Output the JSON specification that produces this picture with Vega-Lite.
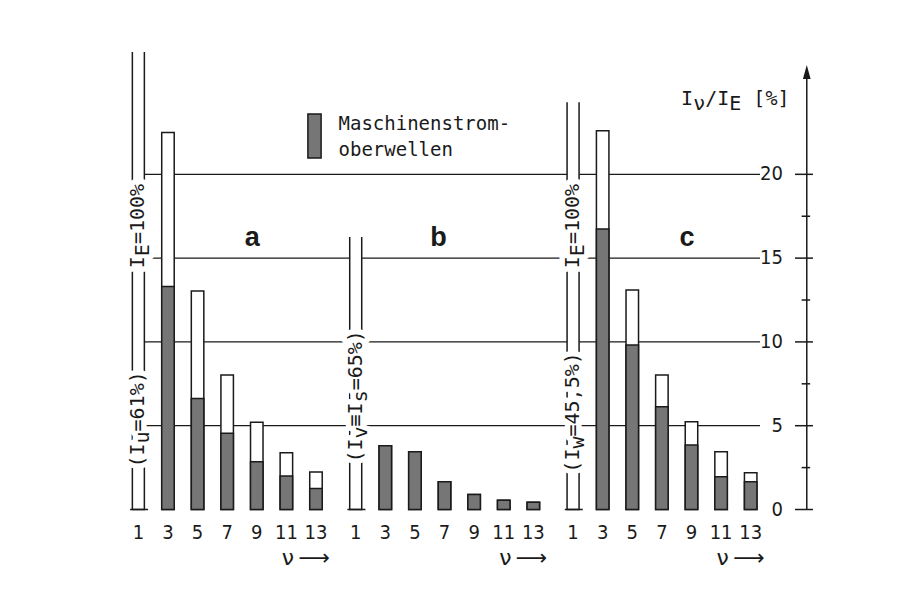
{
"$schema": "https://vega.github.io/schema/vega-lite/v6.json",
"width": 628, "height": 444.1,
"autosize": {"type": "none"},
"padding": {"left": 132, "top": 65.4, "right": 149, "bottom": 93.5},
"background": "white",
"config": {"view": {"stroke": null}},
"datasets": {
 "bars": [
  {"panel": "a", "nu": 3, "total": 22.5, "hatched": 13.3},
  {"panel": "a", "nu": 5, "total": 13.04, "hatched": 6.63},
  {"panel": "a", "nu": 7, "total": 8.03, "hatched": 4.55},
  {"panel": "a", "nu": 9, "total": 5.2, "hatched": 2.85},
  {"panel": "a", "nu": 11, "total": 3.39, "hatched": 2.0},
  {"panel": "a", "nu": 13, "total": 2.24, "hatched": 1.26},
  {"panel": "b", "nu": 3, "total": 3.8, "hatched": 3.8},
  {"panel": "b", "nu": 5, "total": 3.45, "hatched": 3.45},
  {"panel": "b", "nu": 7, "total": 1.65, "hatched": 1.65},
  {"panel": "b", "nu": 9, "total": 0.9, "hatched": 0.9},
  {"panel": "b", "nu": 11, "total": 0.55, "hatched": 0.55},
  {"panel": "b", "nu": 13, "total": 0.43, "hatched": 0.43},
  {"panel": "c", "nu": 3, "total": 22.6, "hatched": 16.74},
  {"panel": "c", "nu": 5, "total": 13.1, "hatched": 9.81},
  {"panel": "c", "nu": 7, "total": 8.03, "hatched": 6.13},
  {"panel": "c", "nu": 9, "total": 5.24, "hatched": 3.85},
  {"panel": "c", "nu": 11, "total": 3.45, "hatched": 1.96},
  {"panel": "c", "nu": 13, "total": 2.2, "hatched": 1.66}
 ],
 "fund": [
  {"panel": "a", "nu": 1, "top": 27.3},
  {"panel": "b", "nu": 1, "top": 16.26},
  {"panel": "c", "nu": 1, "top": 24.3}
 ],
 "panels": [{"panel": "a"}, {"panel": "b"}, {"panel": "c"}],
 "grid": [{"v": 5}, {"v": 10}, {"v": 15}, {"v": 20}],
 "yticks": [{"v": 0}, {"v": 2.5}, {"v": 5}, {"v": 7.5}, {"v": 10}, {"v": 12.5}, {"v": 15}, {"v": 17.5}, {"v": 20}],
 "rot": [
  {"panel": "a", "nu": 1, "at": 14.4, "main": "I\u00a0=100%", "sub": "\u200b\u00a0E"},
  {"panel": "a", "nu": 1, "at": 2.5, "main": "(I\u00a0=61%)", "sub": "\u200b\u00a0\u00a0u"},
  {"panel": "b", "nu": 1, "at": 2.8, "main": "(I\u00a0\u2261I\u00a0=65%)", "sub": "\u200b\u00a0\u00a0v\u00a0\u00a0s"},
  {"panel": "c", "nu": 1, "at": 14.4, "main": "I\u00a0=100%", "sub": "\u200b\u00a0E"},
  {"panel": "c", "nu": 1, "at": 2.2, "main": "(I\u00a0=45,5%)", "sub": "\u200b\u00a0\u00a0w"}
 ],
 "letters": [
  {"panel": "a", "nu": 8.7, "label": "a"},
  {"panel": "b", "nu": 6.6, "label": "b"},
  {"panel": "c", "nu": 8.7, "label": "c"}
 ]
},
"layer": [
 {
  "data": {"name": "grid"},
  "mark": {"type": "rule", "stroke": "#1a1a1a", "strokeWidth": 1.2},
  "encoding": {
   "y": {"field": "v", "type": "quantitative", "scale": {"domain": [0, 26.5], "nice": false}, "axis": null}
  }
 },
 {
  "data": {"name": "fund"},
  "mark": {"type": "bar", "fill": "white", "stroke": "#1a1a1a", "strokeWidth": 1.5, "width": 12, "strokeDash": [0, 12, 10000]},
  "encoding": {
   "x": {"field": "panel", "type": "nominal", "scale": {"domain": ["a", "b", "c"], "paddingInner": 0.1107, "paddingOuter": 0, "align": 0}, "axis": null},
   "xOffset": {"field": "nu", "type": "quantitative", "scale": {"domain": [0.57, 13.63], "range": [0, 193.3]}},
   "y": {"field": "top", "type": "quantitative", "scale": {"domain": [0, 26.5], "nice": false}, "axis": null},
   "y2": {"datum": 0}
  }
 },
 {
  "data": {"name": "bars"},
  "mark": {"type": "bar", "fill": "white", "stroke": "#1a1a1a", "strokeWidth": 1.5, "width": 12.5},
  "encoding": {
   "x": {"field": "panel", "type": "nominal", "scale": {"domain": ["a", "b", "c"], "paddingInner": 0.1107, "paddingOuter": 0, "align": 0}, "axis": null},
   "xOffset": {"field": "nu", "type": "quantitative", "scale": {"domain": [0.57, 13.63], "range": [0, 193.3]}},
   "y": {"field": "total", "type": "quantitative", "scale": {"domain": [0, 26.5], "nice": false}, "axis": null},
   "y2": {"datum": 0}
  }
 },
 {
  "data": {"name": "bars"},
  "mark": {"type": "bar", "stroke": "#1a1a1a", "strokeWidth": 1.5, "width": 12.5},
  "encoding": {
   "x": {"field": "panel", "type": "nominal", "scale": {"domain": ["a", "b", "c"], "paddingInner": 0.1107, "paddingOuter": 0, "align": 0}, "axis": null},
   "xOffset": {"field": "nu", "type": "quantitative", "scale": {"domain": [0.57, 13.63], "range": [0, 193.3]}},
   "y": {"field": "hatched", "type": "quantitative", "scale": {"domain": [0, 26.5], "nice": false}, "axis": null},
   "y2": {"datum": 0},
   "color": {"datum": "Maschinenstrom-oberwellen", "type": "nominal", "scale": {"range": ["#767676"]},
    "legend": {"orient": "none", "legendX": 159.5, "legendY": 47.6, "title": null, "padding": 0,
     "symbolType": "M-0.3,-1H0.3V1H-0.3Z", "symbolSize": 1936, "symbolStrokeColor": "#1a1a1a", "symbolStrokeWidth": 1.5,
     "labelFont": "DejaVu Sans Mono", "labelFontSize": 19, "labelColor": "#1a1a1a", "labelLimit": 0, "labelOffset": 1,
     "labelExpr": "['Maschinenstrom-', 'oberwellen']",
     "encode": {"labels": {"update": {"lineHeight": {"value": 26}, "dy": {"value": -12}}}}}}
  }
 },
 {
  "data": {"name": "panels"},
  "mark": {"type": "bar", "fill": "transparent", "stroke": "#1a1a1a", "strokeWidth": 1.5, "width": {"band": 1.02}},
  "encoding": {
   "x": {"field": "panel", "type": "nominal", "scale": {"domain": ["a", "b", "c"], "paddingInner": 0.1107, "paddingOuter": 0, "align": 0}, "axis": null},
   "y": {"datum": 0, "type": "quantitative", "scale": {"domain": [0, 26.5], "nice": false}, "axis": null},
   "y2": {"datum": 0}
  }
 },
 {
  "data": {"name": "bars"},
  "mark": {"type": "text", "font": "Liberation Sans Narrow, DejaVu Sans Condensed, Liberation Sans", "fontSize": 20, "fill": "#1a1a1a", "baseline": "alphabetic", "align": "center", "dy": 29},
  "encoding": {
   "x": {"field": "panel", "type": "nominal", "scale": {"domain": ["a", "b", "c"], "paddingInner": 0.1107, "paddingOuter": 0, "align": 0}, "axis": null},
   "xOffset": {"field": "nu", "type": "quantitative", "scale": {"domain": [0.57, 13.63], "range": [0, 193.3]}},
   "y": {"datum": 0, "type": "quantitative", "scale": {"domain": [0, 26.5], "nice": false}, "axis": null},
   "text": {"field": "nu", "type": "quantitative"}
  }
 },
 {
  "data": {"name": "fund"},
  "mark": {"type": "text", "font": "Liberation Sans Narrow, DejaVu Sans Condensed, Liberation Sans", "fontSize": 20, "fill": "#1a1a1a", "baseline": "alphabetic", "align": "center", "dy": 29},
  "encoding": {
   "x": {"field": "panel", "type": "nominal", "scale": {"domain": ["a", "b", "c"], "paddingInner": 0.1107, "paddingOuter": 0, "align": 0}, "axis": null},
   "xOffset": {"field": "nu", "type": "quantitative", "scale": {"domain": [0.57, 13.63], "range": [0, 193.3]}},
   "y": {"datum": 0, "type": "quantitative", "scale": {"domain": [0, 26.5], "nice": false}, "axis": null},
   "text": {"field": "nu", "type": "quantitative"}
  }
 },
 {
  "data": {"name": "panels"},
  "mark": {"type": "text", "font": "DejaVu Sans", "fontSize": 22, "fill": "#1a1a1a", "baseline": "alphabetic", "align": "right", "dy": 55.5, "text": "\u03bd\u2009\u27f6"},
  "encoding": {
   "x": {"field": "panel", "type": "nominal", "scale": {"domain": ["a", "b", "c"], "paddingInner": 0.1107, "paddingOuter": 0, "align": 0}, "axis": null},
   "xOffset": {"datum": 13.95, "type": "quantitative", "scale": {"domain": [0.57, 13.63], "range": [0, 193.3]}},
   "y": {"datum": 0, "type": "quantitative", "scale": {"domain": [0, 26.5], "nice": false}, "axis": null}
  }
 },
 {
  "data": {"name": "rot"},
  "mark": {"type": "text", "angle": 270, "align": "left", "baseline": "middle", "font": "DejaVu Sans Mono", "fontSize": 20, "fill": "white", "stroke": "white", "strokeWidth": 11, "strokeJoin": "round"},
  "encoding": {
   "x": {"field": "panel", "type": "nominal", "scale": {"domain": ["a", "b", "c"], "paddingInner": 0.1107, "paddingOuter": 0, "align": 0}, "axis": null},
   "xOffset": {"field": "nu", "type": "quantitative", "scale": {"domain": [0.57, 13.63], "range": [0, 193.3]}},
   "y": {"field": "at", "type": "quantitative", "scale": {"domain": [0, 26.5], "nice": false}, "axis": null},
   "text": {"field": "main"}
  }
 },
 {
  "data": {"name": "rot"},
  "mark": {"type": "text", "angle": 270, "align": "left", "baseline": "middle", "font": "DejaVu Sans Mono", "fontSize": 20, "fill": "white", "stroke": "white", "strokeWidth": 11, "strokeJoin": "round", "dy": 5},
  "encoding": {
   "x": {"field": "panel", "type": "nominal", "scale": {"domain": ["a", "b", "c"], "paddingInner": 0.1107, "paddingOuter": 0, "align": 0}, "axis": null},
   "xOffset": {"field": "nu", "type": "quantitative", "scale": {"domain": [0.57, 13.63], "range": [0, 193.3]}},
   "y": {"field": "at", "type": "quantitative", "scale": {"domain": [0, 26.5], "nice": false}, "axis": null},
   "text": {"field": "sub"}
  }
 },
 {
  "data": {"name": "rot"},
  "mark": {"type": "text", "angle": 270, "align": "left", "baseline": "middle", "font": "DejaVu Sans Mono", "fontSize": 20, "fill": "#1a1a1a"},
  "encoding": {
   "x": {"field": "panel", "type": "nominal", "scale": {"domain": ["a", "b", "c"], "paddingInner": 0.1107, "paddingOuter": 0, "align": 0}, "axis": null},
   "xOffset": {"field": "nu", "type": "quantitative", "scale": {"domain": [0.57, 13.63], "range": [0, 193.3]}},
   "y": {"field": "at", "type": "quantitative", "scale": {"domain": [0, 26.5], "nice": false}, "axis": null},
   "text": {"field": "main"}
  }
 },
 {
  "data": {"name": "rot"},
  "mark": {"type": "text", "angle": 270, "align": "left", "baseline": "middle", "font": "DejaVu Sans Mono", "fontSize": 20, "fill": "#1a1a1a", "dy": 5},
  "encoding": {
   "x": {"field": "panel", "type": "nominal", "scale": {"domain": ["a", "b", "c"], "paddingInner": 0.1107, "paddingOuter": 0, "align": 0}, "axis": null},
   "xOffset": {"field": "nu", "type": "quantitative", "scale": {"domain": [0.57, 13.63], "range": [0, 193.3]}},
   "y": {"field": "at", "type": "quantitative", "scale": {"domain": [0, 26.5], "nice": false}, "axis": null},
   "text": {"field": "sub"}
  }
 },
 {
  "data": {"name": "letters"},
  "mark": {"type": "text", "font": "Liberation Sans", "fontWeight": "bold", "fontSize": 27, "fill": "#1a1a1a", "baseline": "alphabetic", "align": "center"},
  "encoding": {
   "x": {"field": "panel", "type": "nominal", "scale": {"domain": ["a", "b", "c"], "paddingInner": 0.1107, "paddingOuter": 0, "align": 0}, "axis": null},
   "xOffset": {"field": "nu", "type": "quantitative", "scale": {"domain": [0.57, 13.63], "range": [0, 193.3]}},
   "y": {"datum": 15.7, "type": "quantitative", "scale": {"domain": [0, 26.5], "nice": false}, "axis": null},
   "text": {"field": "label"}
  }
 },
 {
  "data": {"values": [{}]},
  "mark": {"type": "text", "font": "DejaVu Sans Mono", "fontSize": 20, "fill": "#1a1a1a", "baseline": "alphabetic", "align": "left", "text": "I\u00a0/I\u00a0\u00a0[%]"},
  "encoding": {
   "x": {"datum": "c", "type": "nominal", "scale": {"domain": ["a", "b", "c"], "paddingInner": 0.1107, "paddingOuter": 0, "align": 0}, "axis": null},
   "xOffset": {"datum": 8.3, "type": "quantitative", "scale": {"domain": [0.57, 13.63], "range": [0, 193.3]}},
   "y": {"datum": 24.13, "type": "quantitative", "scale": {"domain": [0, 26.5], "nice": false}, "axis": null}
  }
 },
 {
  "data": {"values": [{}]},
  "mark": {"type": "text", "font": "DejaVu Sans Mono", "fontSize": 20, "fill": "#1a1a1a", "baseline": "alphabetic", "align": "left", "dy": 5, "text": "\u200b\u00a0\u03bd\u00a0\u00a0E"},
  "encoding": {
   "x": {"datum": "c", "type": "nominal", "scale": {"domain": ["a", "b", "c"], "paddingInner": 0.1107, "paddingOuter": 0, "align": 0}, "axis": null},
   "xOffset": {"datum": 8.3, "type": "quantitative", "scale": {"domain": [0.57, 13.63], "range": [0, 193.3]}},
   "y": {"datum": 24.13, "type": "quantitative", "scale": {"domain": [0, 26.5], "nice": false}, "axis": null}
  }
 },
 {
  "data": {"values": [{}]},
  "mark": {"type": "rule", "stroke": "#1a1a1a", "strokeWidth": 1.5},
  "encoding": {
   "x": {"datum": "c", "type": "nominal", "scale": {"domain": ["a", "b", "c"], "paddingInner": 0.1107, "paddingOuter": 0, "align": 0}, "axis": null},
   "xOffset": {"datum": 16.79, "type": "quantitative", "scale": {"domain": [0.57, 13.63], "range": [0, 193.3]}},
   "y": {"datum": 0, "type": "quantitative", "scale": {"domain": [0, 26.5], "nice": false}, "axis": null},
   "y2": {"datum": 26.0}
  }
 },
 {
  "data": {"name": "yticks"},
  "transform": [{"filter": "datum.v % 5 === 0"}],
  "mark": {"type": "tick", "color": "#1a1a1a", "thickness": 1.5, "size": 18, "opacity": 1},
  "encoding": {
   "x": {"datum": "c", "type": "nominal", "scale": {"domain": ["a", "b", "c"], "paddingInner": 0.1107, "paddingOuter": 0, "align": 0}, "axis": null},
   "xOffset": {"datum": 16.6, "type": "quantitative", "scale": {"domain": [0.57, 13.63], "range": [0, 193.3]}},
   "y": {"field": "v", "type": "quantitative", "scale": {"domain": [0, 26.5], "nice": false}, "axis": null}
  }
 },
 {
  "data": {"name": "yticks"},
  "transform": [{"filter": "datum.v % 5 !== 0"}],
  "mark": {"type": "tick", "color": "#1a1a1a", "thickness": 1.5, "size": 8.5, "opacity": 1},
  "encoding": {
   "x": {"datum": "c", "type": "nominal", "scale": {"domain": ["a", "b", "c"], "paddingInner": 0.1107, "paddingOuter": 0, "align": 0}, "axis": null},
   "xOffset": {"datum": 16.73, "type": "quantitative", "scale": {"domain": [0.57, 13.63], "range": [0, 193.3]}},
   "y": {"field": "v", "type": "quantitative", "scale": {"domain": [0, 26.5], "nice": false}, "axis": null}
  }
 },
 {
  "data": {"name": "yticks"},
  "transform": [{"filter": "datum.v % 5 === 0"}],
  "mark": {"type": "text", "font": "Liberation Sans Narrow, DejaVu Sans Condensed, Liberation Sans", "fontSize": 20, "fill": "#1a1a1a", "baseline": "middle", "align": "right"},
  "encoding": {
   "x": {"datum": "c", "type": "nominal", "scale": {"domain": ["a", "b", "c"], "paddingInner": 0.1107, "paddingOuter": 0, "align": 0}, "axis": null},
   "xOffset": {"datum": 15.18, "type": "quantitative", "scale": {"domain": [0.57, 13.63], "range": [0, 193.3]}},
   "y": {"field": "v", "type": "quantitative", "scale": {"domain": [0, 26.5], "nice": false}, "axis": null},
   "text": {"field": "v", "type": "quantitative"}
  }
 },
 {
  "data": {"values": [{}]},
  "mark": {"type": "point", "shape": "M0,-1L0.55,1L-0.55,1Z", "size": 196, "filled": true, "fill": "#1a1a1a", "opacity": 1, "strokeWidth": 0},
  "encoding": {
   "x": {"datum": "c", "type": "nominal", "scale": {"domain": ["a", "b", "c"], "paddingInner": 0.1107, "paddingOuter": 0, "align": 0}, "axis": null},
   "xOffset": {"datum": 16.79, "type": "quantitative", "scale": {"domain": [0.57, 13.63], "range": [0, 193.3]}},
   "y": {"datum": 26.1, "type": "quantitative", "scale": {"domain": [0, 26.5], "nice": false}, "axis": null}
  }
 }
]
}
